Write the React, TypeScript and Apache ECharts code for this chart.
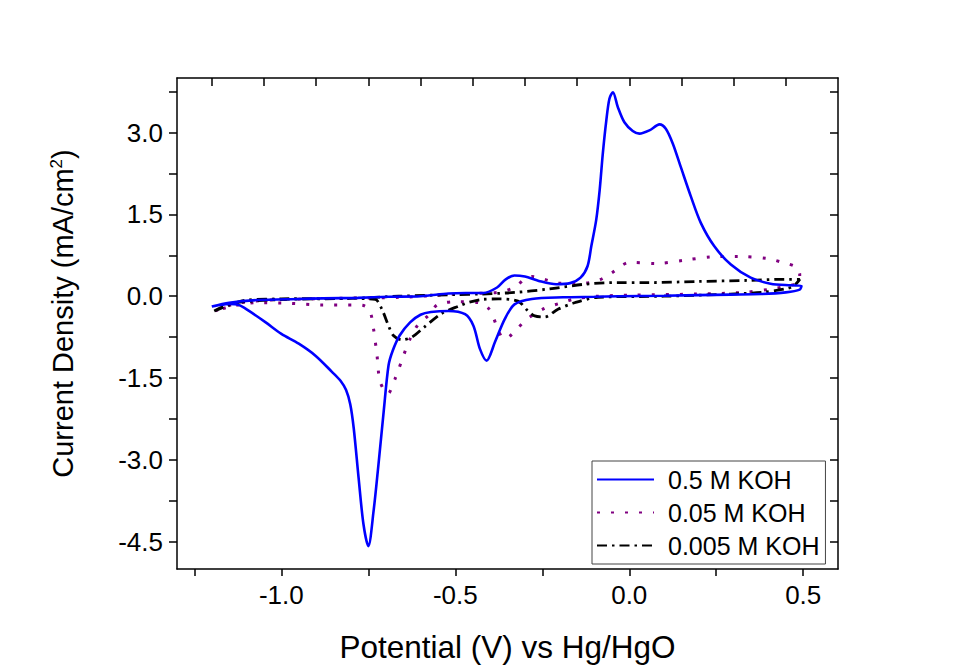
import React, { useEffect, useRef } from "react";
import * as echarts from "echarts";

const seriesNames = ["0.5 M KOH", "0.05 M KOH", "0.005 M KOH"];

// [potential (V), current density (mA/cm2)] in sweep order
const cvKoh05: [number, number][] = [
  [-1.2, -0.19], [-1.15, -0.12], [-1.07, -0.07], [-0.95, -0.05], [-0.88, -0.04],
  [-0.78, -0.03], [-0.69, -0.01], [-0.6, 0.0], [-0.52, 0.05], [-0.47, 0.06],
  [-0.42, 0.06], [-0.38, 0.16], [-0.355, 0.31], [-0.33, 0.38], [-0.3, 0.36],
  [-0.26, 0.28], [-0.21, 0.22], [-0.17, 0.24], [-0.14, 0.34], [-0.12, 0.55],
  [-0.109, 0.92], [-0.095, 1.4], [-0.085, 1.95], [-0.076, 2.62], [-0.066, 3.22],
  [-0.057, 3.62], [-0.047, 3.74], [-0.033, 3.47], [-0.014, 3.19], [0.01, 3.03],
  [0.029, 2.98], [0.058, 3.04], [0.087, 3.15], [0.105, 3.07], [0.125, 2.8],
  [0.148, 2.37], [0.177, 1.83], [0.206, 1.34], [0.244, 0.92], [0.292, 0.58],
  [0.349, 0.34], [0.406, 0.23], [0.464, 0.2], [0.495, 0.19],
  [0.49, 0.12], [0.45, 0.07], [0.38, 0.04], [0.29, 0.03], [0.1, 0.01],
  [-0.03, 0.0], [-0.1, -0.01], [-0.19, -0.02], [-0.28, -0.05], [-0.33, -0.15],
  [-0.358, -0.42], [-0.386, -0.84], [-0.41, -1.18], [-0.429, -0.97], [-0.448, -0.54],
  [-0.472, -0.33], [-0.52, -0.27], [-0.57, -0.29], [-0.6, -0.34], [-0.63, -0.48],
  [-0.66, -0.72], [-0.68, -1.0], [-0.692, -1.27], [-0.706, -2.12], [-0.721, -3.09],
  [-0.735, -3.94], [-0.75, -4.58], [-0.764, -4.18], [-0.778, -3.33], [-0.792, -2.42],
  [-0.802, -1.98], [-0.814, -1.72], [-0.83, -1.55], [-0.854, -1.39], [-0.902, -1.09],
  [-0.95, -0.87], [-1.0, -0.69], [-1.045, -0.48], [-1.093, -0.27], [-1.122, -0.16],
  [-1.15, -0.14], [-1.185, -0.17], [-1.2, -0.19],
];

const cvKoh005: [number, number][] = [
  [-1.19, -0.27], [-1.15, -0.17], [-1.12, -0.12], [-1.03, -0.07], [-0.84, -0.04],
  [-0.66, -0.02], [-0.57, 0.01], [-0.47, 0.05], [-0.38, 0.07], [-0.33, 0.16],
  [-0.3, 0.32], [-0.28, 0.36], [-0.245, 0.31], [-0.205, 0.24], [-0.167, 0.24],
  [-0.128, 0.24], [-0.085, 0.3], [-0.05, 0.43], [-0.02, 0.57], [0.0, 0.62],
  [0.077, 0.6], [0.158, 0.66], [0.234, 0.72], [0.316, 0.73], [0.397, 0.69],
  [0.44, 0.62], [0.478, 0.54], [0.49, 0.4], [0.485, 0.25],
  [0.44, 0.17], [0.406, 0.13], [0.33, 0.07], [0.196, 0.04], [0.005, 0.02],
  [-0.09, 0.0], [-0.157, -0.05], [-0.2, -0.13], [-0.243, -0.22], [-0.29, -0.4],
  [-0.32, -0.58], [-0.345, -0.74], [-0.36, -0.78], [-0.375, -0.65], [-0.39, -0.4],
  [-0.405, -0.22], [-0.43, -0.12], [-0.49, -0.1], [-0.55, -0.15], [-0.577, -0.35],
  [-0.606, -0.51], [-0.63, -0.78], [-0.649, -1.09], [-0.673, -1.51], [-0.694, -1.79],
  [-0.716, -1.57], [-0.725, -1.09], [-0.735, -0.6], [-0.744, -0.3], [-0.76, -0.18],
  [-0.787, -0.16], [-0.883, -0.16], [-0.978, -0.13], [-1.074, -0.12], [-1.14, -0.18],
  [-1.19, -0.27],
];

const cvKoh0005: [number, number][] = [
  [-1.193, -0.27], [-1.14, -0.13], [-1.0, -0.06], [-0.8, -0.04], [-0.663, 0.0],
  [-0.5, 0.03], [-0.425, 0.04], [-0.329, 0.07], [-0.234, 0.13], [-0.128, 0.22],
  [-0.033, 0.25], [0.05, 0.25], [0.196, 0.27], [0.34, 0.29], [0.445, 0.31],
  [0.49, 0.31], [0.473, 0.19], [0.445, 0.13], [0.38, 0.07], [0.29, 0.04],
  [0.1, 0.0], [-0.09, -0.02], [-0.157, -0.12], [-0.205, -0.24], [-0.243, -0.38],
  [-0.272, -0.36], [-0.291, -0.27], [-0.32, -0.09], [-0.377, -0.05], [-0.425, -0.06],
  [-0.46, -0.11], [-0.49, -0.18], [-0.54, -0.32], [-0.59, -0.57], [-0.625, -0.75],
  [-0.654, -0.8], [-0.678, -0.72], [-0.692, -0.54], [-0.711, -0.24], [-0.73, -0.06],
  [-0.8, -0.04], [-1.0, -0.05], [-1.1, -0.07], [-1.193, -0.27],
];

const xLabelValues = [-1.0, -0.5, 0.0, 0.5];
const xTickValues = [-1.25, -1.0, -0.75, -0.5, -0.25, 0.0, 0.25, 0.5];
const xTopTickValues = [-1.2, -1.05, -0.9, -0.75, -0.6, -0.45, -0.3, -0.15, 0.0, 0.15, 0.3, 0.45];
const yLabelValues = [-4.5, -3.0, -1.5, 0.0, 1.5, 3.0];
const yTickValues = [-4.5, -3.75, -3.0, -2.25, -1.5, -0.75, 0.0, 0.75, 1.5, 2.25, 3.0, 3.75];

const FONT = "'Liberation Sans', Arial, sans-serif";

export default function App() {
  const ref = useRef<HTMLDivElement>(null);
  useEffect(() => {
    if (!ref.current) return;
    const chart = echarts.init(ref.current, undefined, { renderer: "svg" });
    const axisLine = { show: true, onZero: false, lineStyle: { color: "#000", width: 1.5 } };
    const tickStyle = { color: "#000", width: 1.5 };
    chart.setOption({
      animation: false,
      backgroundColor: "#fff",
      textStyle: { fontFamily: FONT },
      grid: { left: 177, right: 120, top: 78, bottom: 96, containLabel: false },
      legend: {
        orient: "vertical",
        left: 592,
        top: 461,
        itemWidth: 57,
        itemHeight: 14,
        itemGap: 8,
        padding: [6, 6, 6, 4],
        borderColor: "#444",
        borderWidth: 1,
        backgroundColor: "#fff",
        itemStyle: { opacity: 0 },
        textStyle: { fontSize: 25, lineHeight: 22, color: "#000", fontFamily: FONT, padding: [0, 0, 0, 9] },
        data: seriesNames,
      },
      xAxis: [
        {
          type: "value",
          position: "bottom",
          min: -1.3,
          max: 0.6,
          axisLine,
          axisTick: { show: true, inside: false, length: 7, customValues: xTickValues, lineStyle: tickStyle },
          axisLabel: {
            customValues: xLabelValues,
            formatter: (v: number) => v.toFixed(1),
            fontSize: 26,
            color: "#000",
            margin: 13,
            fontFamily: FONT,
          },
          splitLine: { show: false },
          name: "Potential (V) vs Hg/HgO",
          nameLocation: "middle",
          nameGap: 62,
          nameTextStyle: { fontSize: 31.5, color: "#000", fontFamily: FONT },
        },
        {
          type: "value",
          position: "top",
          min: -1.3,
          max: 0.6,
          axisLine,
          axisTick: { show: true, inside: true, length: 8, customValues: xTopTickValues, lineStyle: tickStyle },
          axisLabel: { show: false },
          splitLine: { show: false },
        },
      ],
      yAxis: [
        {
          type: "value",
          position: "left",
          min: -5,
          max: 4,
          axisLine,
          axisTick: { show: true, inside: false, length: 8, customValues: yTickValues, lineStyle: tickStyle },
          axisLabel: {
            customValues: yLabelValues,
            formatter: (v: number) => v.toFixed(1),
            fontSize: 26,
            color: "#000",
            margin: 14,
            fontFamily: FONT,
          },
          splitLine: { show: false },
          name: "{t|Current Density (mA/cm}{s|2}{t|)}",
          nameLocation: "middle",
          nameGap: 100,
          nameTextStyle: {
            color: "#000",
            fontFamily: FONT,
            padding: [0, 0, 0, 20],
            rich: {
              t: { fontSize: 29, color: "#000", fontFamily: FONT },
              s: { fontSize: 17, color: "#000", fontFamily: FONT, verticalAlign: "top", padding: [0, 0, 12, 0] },
            },
          },
        },
        {
          type: "value",
          position: "right",
          min: -5,
          max: 4,
          axisLine,
          axisTick: { show: true, inside: true, length: 8, customValues: yTickValues, lineStyle: tickStyle },
          axisLabel: { show: false },
          splitLine: { show: false },
        },
      ],
      series: [
        {
          name: seriesNames[0],
          type: "line",
          data: cvKoh05,
          xAxisIndex: 0,
          yAxisIndex: 0,
          showSymbol: false,
          symbol: "none",
          smooth: 0.3,
          lineStyle: { color: "#0000ff", width: 2.6 },
          itemStyle: { color: "#0000ff" },
          z: 3,
        },
        {
          name: seriesNames[1],
          type: "line",
          data: cvKoh005,
          xAxisIndex: 0,
          yAxisIndex: 0,
          showSymbol: false,
          symbol: "none",
          smooth: 0.3,
          lineStyle: { color: "#800080", width: 3, type: [3, 11] },
          itemStyle: { color: "#800080" },
          z: 2,
        },
        {
          name: seriesNames[2],
          type: "line",
          data: cvKoh0005,
          xAxisIndex: 0,
          yAxisIndex: 0,
          showSymbol: false,
          symbol: "none",
          smooth: 0.3,
          lineStyle: { color: "#000000", width: 2.8, type: [10, 5, 2.5, 5] },
          itemStyle: { color: "#000000" },
          z: 2,
        },
      ],
    });
    return () => chart.dispose();
  }, []);
  return (
    <div
      ref={ref}
      style={{ position: "fixed", left: 0, top: 0, width: 958, height: 668, background: "#fff" }}
    />
  );
}
